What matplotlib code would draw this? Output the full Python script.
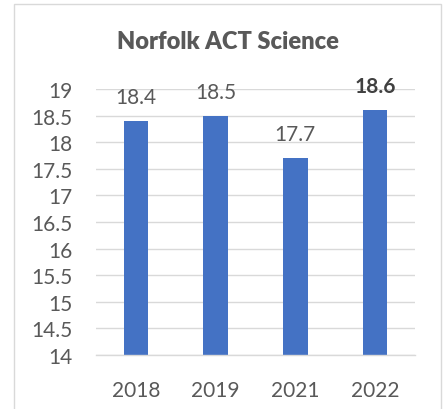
import matplotlib
matplotlib.use("Agg")
import matplotlib.pyplot as plt
from matplotlib.patches import Rectangle

# --- data ---

years = ["2018", "2019", "2021", "2022"]
scores = [18.4, 18.5, 17.7, 18.6]
bold_label = [False, False, False, True]
y_ticks = [14, 14.5, 15, 15.5, 16, 16.5, 17, 17.5, 18, 18.5, 19]
title = "Norfolk ACT Science"

# --- style ---

BAR = "#4472C4"
GRID = "#D9D9D9"
TXT = "#595959"
FONT = ["Lato", "DejaVu Sans"]

plt.rcParams.update({
    "font.family": FONT,
    "font.size": 15,
})

W, H = 445, 410
fig = plt.figure(figsize=(W / 100, H / 100), dpi=100)

# chart frame
fig.patches.append(Rectangle((14 / W, -0.01), (441 - 14) / W, (H - 5) / H + 0.01,
                             transform=fig.transFigure, fill=False,
                             edgecolor=GRID, linewidth=1.0))

ax = fig.add_axes([96 / W, 54 / H, (415 - 96) / W, (356 - 90) / H])

x = list(range(len(years)))
ax.bar(x, [s - 14 for s in scores], bottom=14, width=0.31, color=BAR, zorder=3)

for xi, s, b in zip(x, scores, bold_label):
    ax.annotate(f"{s:.1f}", (xi, s), xytext=(0, 13), textcoords="offset points",
                ha="center", va="baseline", color="#404040" if b else TXT,
                fontsize=15, fontweight="bold" if b else "normal", zorder=4)

ax.set_xlim(-0.5, len(years) - 0.5)
ax.set_ylim(14, 19)
ax.set_yticks(y_ticks)
ax.set_yticklabels([f"{t:g}" for t in y_ticks])
ax.set_xticks(x)
ax.set_xticklabels(years)
ax.tick_params(axis="both", length=0, colors=TXT, labelsize=15)
ax.tick_params(axis="y", pad=17)
ax.tick_params(axis="x", pad=18)

ax.grid(axis="y", color=GRID, linewidth=1.0, zorder=0)
for side in ["top", "right", "left"]:
    ax.spines[side].set_visible(False)
ax.spines["bottom"].set_color(GRID)
ax.spines["bottom"].set_linewidth(1.0)
ax.spines["bottom"].set_zorder(3.5)

fig.text(228 / W, 1 - 42 / H, title, ha="center", va="center",
         fontsize=17, fontweight="heavy", color=TXT)

fig.savefig("out.png", dpi=100)
